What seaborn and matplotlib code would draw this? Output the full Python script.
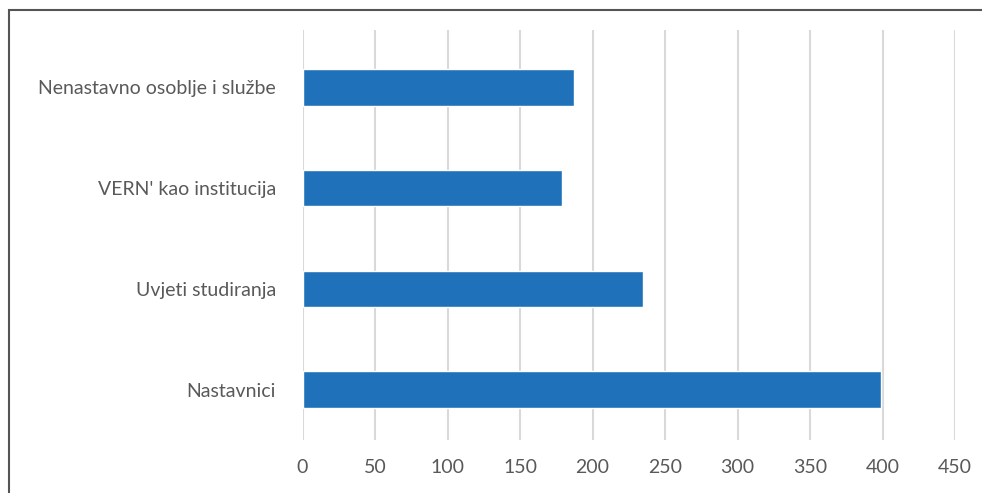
import matplotlib
matplotlib.use("Agg")
import matplotlib.pyplot as plt
import seaborn as sns
import pandas as pd
from matplotlib.patches import Rectangle

categories = ["Nenastavno osoblje i službe", "VERN' kao institucija", "Uvjeti studiranja", "Nastavnici"]
values = [187, 179, 235, 399]
xticks = [0, 50, 100, 150, 200, 250, 300, 350, 400, 450]

df = pd.DataFrame({"cat": categories, "val": values})

sns.set_theme(style="white")
plt.rcParams['font.family'] = ['Lato', 'DejaVu Sans']

fig = plt.figure(figsize=(9.82, 4.93), dpi=100)
ax = fig.add_axes([302.5/982, (493-440)/493, (955-302.5)/982, (440-30)/493])

sns.barplot(data=df, x="val", y="cat", orient="h", color="#1F72BA", width=0.36,
            saturation=1, ax=ax, zorder=3)

ax.set_xlim(0, 450)
ax.set_ylim(3.5, -0.57)
ax.set_xticks(xticks)
ax.set_xticklabels([str(t) for t in xticks])
ax.grid(axis="x", color="#D9D9D9", linewidth=1.5, zorder=0)
ax.grid(axis="y", visible=False)
for s in ax.spines.values():
    s.set_visible(False)
ax.set_xlabel("")
ax.set_ylabel("")
ax.tick_params(axis="both", length=0, labelsize=14, labelcolor="#595959")
ax.tick_params(axis="x", pad=14)
ax.tick_params(axis="y", pad=19)

fig.patches.append(Rectangle((9/982, -0.05), 1.2, (493-10)/493 + 0.05,
                             transform=fig.transFigure, fill=False,
                             edgecolor="#555555", linewidth=1.5))

fig.savefig("out.png", dpi=100)
